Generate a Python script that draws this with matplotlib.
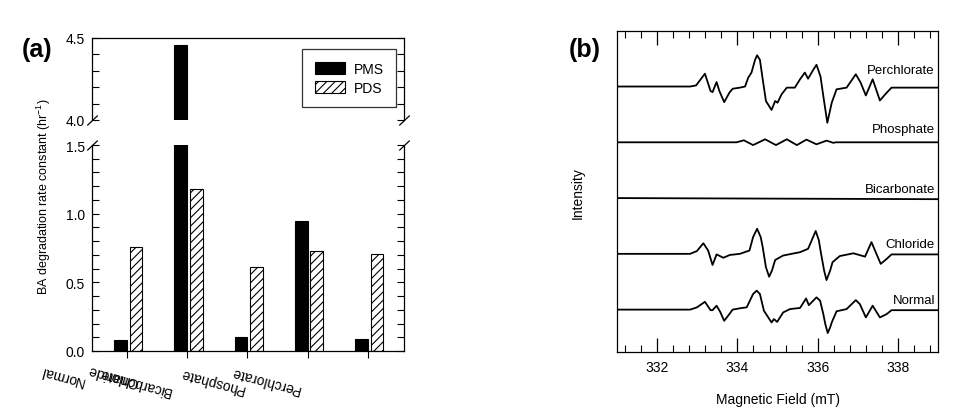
import matplotlib
matplotlib.use("Agg")
import matplotlib.pyplot as plt
from matplotlib.ticker import MultipleLocator

plt.rcParams['font.family'] = ['Liberation Sans', 'DejaVu Sans']
plt.rcParams['mathtext.default'] = 'regular'
plt.rcParams['hatch.linewidth'] = 0.8

# (a) rate constants
categories = ["Normal", "Chloride", "Bicarbonate", "Phosphate", "Perchlorate"]
pms = [0.077, 4.46, 0.104, 0.946, 0.09]
pds = [0.755, 1.176, 0.612, 0.726, 0.704]

# (b) EPR spectra (field in mT, intensity in offset units)
normal_field = [331.0, 332.82, 332.99, 333.19, 333.33, 333.38, 333.48, 333.57, 333.67, 333.80,
                333.88, 334.11, 334.23, 334.31, 334.39, 334.48, 334.56, 334.66, 334.85, 334.91,
                334.99, 335.14, 335.31, 335.56, 335.71, 335.78, 335.97, 336.06, 336.14, 336.19,
                336.25, 336.31, 336.35, 336.47, 336.72, 336.95, 337.05, 337.20, 337.37, 337.55,
                337.72, 337.84, 339.0]
normal_int = [0.0, 0.0, 0.04, 0.14, -0.01, -0.01, 0.07, -0.04, -0.20, -0.08,
              0.0, 0.03, 0.04, 0.16, 0.28, 0.34, 0.28, -0.02, -0.23, -0.17,
              -0.22, -0.05, 0.01, 0.03, 0.20, 0.08, 0.22, 0.16, -0.08, -0.26,
              -0.42, -0.32, -0.23, -0.03, 0.01, 0.17, 0.10, -0.14, 0.07, -0.14,
              -0.08, -0.01, -0.01]

chloride_field = [331.0, 332.82, 332.99, 333.15, 333.27, 333.38, 333.48, 333.65, 333.81, 334.06,
                  334.30, 334.39, 334.49, 334.58, 334.63, 334.71, 334.79, 334.86, 334.94, 335.14,
                  335.56, 335.76, 335.85, 335.95, 336.03, 336.07, 336.16, 336.22, 336.31, 336.37,
                  336.55, 336.89, 337.18, 337.34, 337.57, 337.72, 337.84, 339.0]
chloride_int = [0.0, 0.0, 0.05, 0.19, 0.06, -0.20, -0.01, -0.07, -0.02, 0.0,
                0.06, 0.30, 0.45, 0.30, 0.12, -0.24, -0.41, -0.30, -0.11, -0.03,
                0.03, 0.09, 0.24, 0.41, 0.24, 0.06, -0.30, -0.47, -0.30, -0.15,
                -0.04, 0.01, -0.05, 0.21, -0.18, -0.09, -0.01, -0.01]

bicarbonate_field = [331.0, 339.0]
bicarbonate_int = [0.0, -0.02]

phosphate_field = [331.0, 333.98, 334.16, 334.39, 334.69, 334.96, 335.23, 335.48, 335.72,
                   335.97, 336.22, 336.39, 336.45, 339.0]
phosphate_int = [0.0, 0.0, 0.036, -0.05, 0.054, -0.05, 0.054, -0.05, 0.048,
                 -0.036, 0.03, -0.01, 0.0, 0.0]

perchlorate_field = [331.0, 332.82, 332.97, 333.19, 333.33, 333.38, 333.48, 333.55, 333.67, 333.80,
                     333.88, 334.06, 334.19, 334.27, 334.35, 334.44, 334.49, 334.56, 334.63, 334.71,
                     334.85, 334.94, 335.00, 335.10, 335.23, 335.43, 335.56, 335.68, 335.76, 335.89,
                     335.97, 336.07, 336.14, 336.24, 336.35, 336.47, 336.72, 336.95, 337.07, 337.20,
                     337.37, 337.55, 337.72, 337.84, 338.13, 339.0]
perchlorate_int = [0.0, 0.0, 0.02, 0.23, -0.08, -0.10, 0.08, -0.08, -0.28, -0.11,
                   -0.04, -0.02, 0.0, 0.16, 0.25, 0.48, 0.56, 0.48, 0.13, -0.26,
                   -0.42, -0.26, -0.29, -0.14, -0.02, -0.02, 0.13, 0.25, 0.14, 0.30,
                   0.39, 0.18, -0.17, -0.65, -0.29, -0.05, -0.02, 0.22, 0.07, -0.16,
                   0.13, -0.25, -0.11, -0.02, -0.02, -0.02]

spectra = [
    ("Normal", normal_field, normal_int),
    ("Chloride", chloride_field, chloride_int),
    ("Bicarbonate", bicarbonate_field, bicarbonate_int),
    ("Phosphate", phosphate_field, phosphate_int),
    ("Perchlorate", perchlorate_field, perchlorate_int),
]

fig = plt.figure(figsize=(9.67, 4.10), dpi=100)
ax_top = fig.add_axes([0.0951, 0.7049, 0.3227, 0.2])
ax_bot = fig.add_axes([0.0951, 0.1415, 0.3227, 0.5024])
ax_r = fig.add_axes([0.6381, 0.139, 0.332, 0.7822])

x = [i + 1 for i in range(len(categories))]
w = 0.21
for ax in (ax_top, ax_bot):
    ax.bar([i - 0.105 for i in x], pms, w, color='black', edgecolor='black', lw=0.8, label='PMS')
    ax.bar([i + 0.15 for i in x], pds, w, color='white', edgecolor='black', lw=0.8,
           hatch='////', label='PDS')
    ax.set_xlim(0.42, 5.6)
    ax.yaxis.set_major_locator(MultipleLocator(0.5))
    ax.yaxis.set_minor_locator(MultipleLocator(0.1))
    ax.tick_params(axis='y', which='both', direction='in', left=True, right=True,
                   length=5, width=0.8, labelsize=10, pad=5)
    for s in ax.spines.values():
        s.set_linewidth(0.9)

ax_top.set_ylim(4.0, 4.5)
ax_top.spines['bottom'].set_visible(False)
ax_top.tick_params(axis='x', bottom=False, labelbottom=False)
ax_bot.set_ylim(0, 1.5)
ax_bot.spines['top'].set_visible(False)
ax_bot.set_xticks(x)
ax_bot.set_xticklabels([])
ax_bot.tick_params(axis='x', direction='out', length=5, width=0.8)

# break marks
d = 0.95
kw = dict(marker=[(-1, -d), (1, d)], markersize=7.5, linestyle='none', color='k',
          mec='k', mew=0.9, clip_on=False)
ax_top.plot([0, 1], [0, 0], transform=ax_top.transAxes, **kw)
ax_bot.plot([0, 1], [1, 1], transform=ax_bot.transAxes, **kw)

leg = ax_top.legend(loc='upper right', fontsize=10, frameon=True, fancybox=False,
                    edgecolor='black', borderpad=0.9, labelspacing=0.35, handlelength=2.2,
                    handleheight=0.95, handletextpad=0.6, borderaxespad=0,
                    bbox_to_anchor=(0.975, 0.86))
leg.get_frame().set_linewidth(0.9)

# upside-down category labels as in the original
label_x = [-0.08, 0.77, 1.13, 2.41, 3.29]
label_y = [-0.117, -0.117, -0.146, -0.141, -0.141]
trans = ax_bot.get_xaxis_transform()
for name, lx, ly in zip(categories, label_x, label_y):
    ax_bot.text(lx, ly, name, transform=trans, rotation=165, ha='center', va='center',
                fontsize=10, clip_on=False)

fig.text(0.045, 0.52, 'BA degradation rate constant (hr$^{-1}$)', rotation=90,
         ha='center', va='center', fontsize=9)
fig.text(0.0388, 0.879, '(a)', fontsize=18, fontweight='bold', ha='center', va='center')

# (b)
label_dy = [0.17, 0.17, 0.17, 0.24, 0.29]
for k, ((name, fx, fy), dy) in enumerate(zip(spectra, label_dy)):
    ax_r.plot(fx, [v + k for v in fy], color='black', lw=1.3, solid_joinstyle='round')
    ax_r.text(338.92, k + dy, name, ha='right', va='center', fontsize=9.5)

ax_r.set_xlim(331, 339)
ax_r.set_ylim(-0.76, 4.99)
ax_r.xaxis.set_major_locator(MultipleLocator(2))
ax_r.xaxis.set_minor_locator(MultipleLocator(0.4))
ax_r.tick_params(axis='x', which='major', direction='in', top=True, length=10, width=0.9,
                 labelsize=10, pad=6)
ax_r.tick_params(axis='x', which='minor', direction='in', top=True, length=5, width=0.8)
ax_r.set_yticks([])
ax_r.set_xlabel('Magnetic Field (mT)', fontsize=10, labelpad=13)
for s in ax_r.spines.values():
    s.set_linewidth(0.9)
fig.text(0.597, 0.528, 'Intensity', rotation=90, ha='center', va='center', fontsize=10)
fig.text(0.6044, 0.878, '(b)', fontsize=18, fontweight='bold', ha='center', va='center')

fig.savefig('out.png', dpi=100)
